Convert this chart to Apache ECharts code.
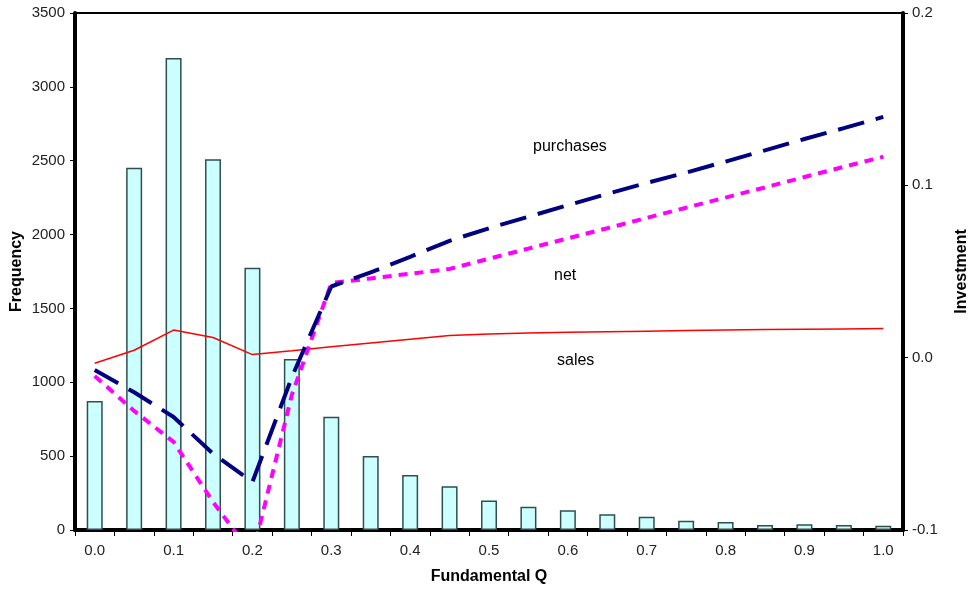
<!DOCTYPE html>
<html>
<head>
<meta charset="utf-8">
<script src="https://cdn.jsdelivr.net/npm/echarts@6/dist/echarts.min.js"></script>
<style>html,body{margin:0;padding:0;background:#fff;}#c{width:971px;height:597px;}</style>
</head>
<body>
<div id="c"></div>
<script>
// Categories: Fundamental Q bins
var categories = ['0.0','0.05','0.1','0.15','0.2','0.25','0.3','0.35','0.4','0.45','0.5','0.55','0.6','0.65','0.7','0.75','0.8','0.85','0.9','0.95','1.0'];
// Frequency histogram (left axis)
var frequency = [874, 2453, 3196, 2510, 1775, 1158, 766, 501, 372, 296, 199, 158, 133, 106, 90, 63, 54, 34, 39, 34, 29];
// Investment (right axis)
var purchases = [-0.0071, -0.0201, -0.0344, -0.0557, -0.0721, -0.0113, 0.0413, 0.0495, 0.0585, 0.0678, 0.0751, 0.0818, 0.0885, 0.0950, 0.1014, 0.1074, 0.1138, 0.1203, 0.1269, 0.1332, 0.1397];
var net = [-0.0106, -0.0309, -0.0489, -0.0837, -0.1145, -0.0216, 0.0433, 0.0460, 0.0487, 0.0515, 0.0574, 0.0633, 0.0692, 0.0751, 0.0811, 0.0870, 0.0929, 0.0988, 0.1048, 0.1107, 0.1166];
var sales = [-0.0032, 0.0043, 0.0160, 0.0117, 0.0018, 0.0040, 0.0063, 0.0085, 0.0107, 0.0129, 0.0137, 0.0143, 0.0147, 0.0151, 0.0154, 0.0157, 0.0160, 0.0163, 0.0165, 0.0167, 0.0169];
var leftTicks = {min: 0, max: 3500, interval: 500};
var rightTicks = {min: -0.1, max: 0.2, interval: 0.1};

var FONT = '"Liberation Sans", Arial, sans-serif';
var chart = echarts.init(document.getElementById('c'), null, {renderer: 'canvas'});
chart.setOption({
  animation: false,
  backgroundColor: '#ffffff',
  grid: {left: 75, right: 68, top: 13, bottom: 67, containLabel: false, outerBoundsMode: 'none',
    show: true, borderColor: '#000', borderWidth: 2, backgroundColor: 'transparent'},
  xAxis: {
    type: 'category',
    data: categories,
    boundaryGap: true,
    name: 'Fundamental Q',
    nameLocation: 'middle',
    nameGap: 39,
    nameMoveOverlap: false,
    nameTextStyle: {fontFamily: FONT, fontSize: 16, fontWeight: 'bold', color: '#000'},
    axisLine: {lineStyle: {color: '#000', width: 4}},
    axisTick: {show: true, interval: 0, length: 6, lineStyle: {color: '#000', width: 1}},
    axisLabel: {interval: 1, margin: 13, fontFamily: FONT, fontSize: 15, color: '#222',
      formatter: function (v) { return Number(v).toFixed(1); }},
    splitLine: {show: false}
  },
  yAxis: [{
    type: 'value',
    position: 'left',
    min: leftTicks.min, max: leftTicks.max, interval: leftTicks.interval,
    name: 'Frequency',
    nameLocation: 'middle',
    nameGap: 50,
    nameMoveOverlap: false,
    nameRotate: 90,
    nameTextStyle: {fontFamily: FONT, fontSize: 16, fontWeight: 'bold', color: '#000'},
    axisLine: {show: true, lineStyle: {color: '#000', width: 4}},
    axisTick: {show: true, length: 5, lineStyle: {color: '#000', width: 1}},
    axisLabel: {margin: 10, fontFamily: FONT, fontSize: 15, color: '#222',
      formatter: function (v) { return String(v); }},
    splitLine: {show: false}
  }, {
    type: 'value',
    position: 'right',
    min: rightTicks.min, max: rightTicks.max, interval: rightTicks.interval,
    name: 'Investment',
    nameLocation: 'middle',
    nameGap: 51,
    nameMoveOverlap: false,
    nameRotate: 90,
    nameTextStyle: {fontFamily: FONT, fontSize: 16, fontWeight: 'bold', color: '#000'},
    axisLine: {show: true, lineStyle: {color: '#000', width: 4}},
    axisTick: {show: true, length: 5, lineStyle: {color: '#000', width: 1}},
    axisLabel: {margin: 9, fontFamily: FONT, fontSize: 15, color: '#222',
      formatter: function (v) { return (Math.round(v * 10) / 10).toFixed(1); }},
    splitLine: {show: false}
  }],
  series: [{
    name: 'Frequency',
    type: 'bar',
    yAxisIndex: 0,
    data: frequency,
    barWidth: 16,
    itemStyle: {color: '#CCFFFF', borderColor: '#2F4F4F', borderWidth: 1.5}
  }, {
    name: 'sales',
    type: 'line',
    yAxisIndex: 1,
    data: sales,
    symbol: 'none',
    lineStyle: {color: '#FF0000', width: 1.5}
  }, {
    name: 'net',
    type: 'line',
    yAxisIndex: 1,
    data: net,
    symbol: 'none',
    clip: true,
    lineStyle: {color: '#FF00FF', width: 4, type: [9, 7]}
  }, {
    name: 'purchases',
    type: 'line',
    yAxisIndex: 1,
    data: purchases,
    symbol: 'none',
    lineStyle: {color: '#000080', width: 4, type: [27, 12]}
  }],
  graphic: [
    {type: 'text', left: 533, top: 139, style: {text: 'purchases', font: '16px ' + FONT, fill: '#000'}},
    {type: 'text', left: 554, top: 268, style: {text: 'net', font: '16px ' + FONT, fill: '#000'}},
    {type: 'text', left: 557, top: 353, style: {text: 'sales', font: '16px ' + FONT, fill: '#000'}}
  ]
});
</script>
</body>
</html>
